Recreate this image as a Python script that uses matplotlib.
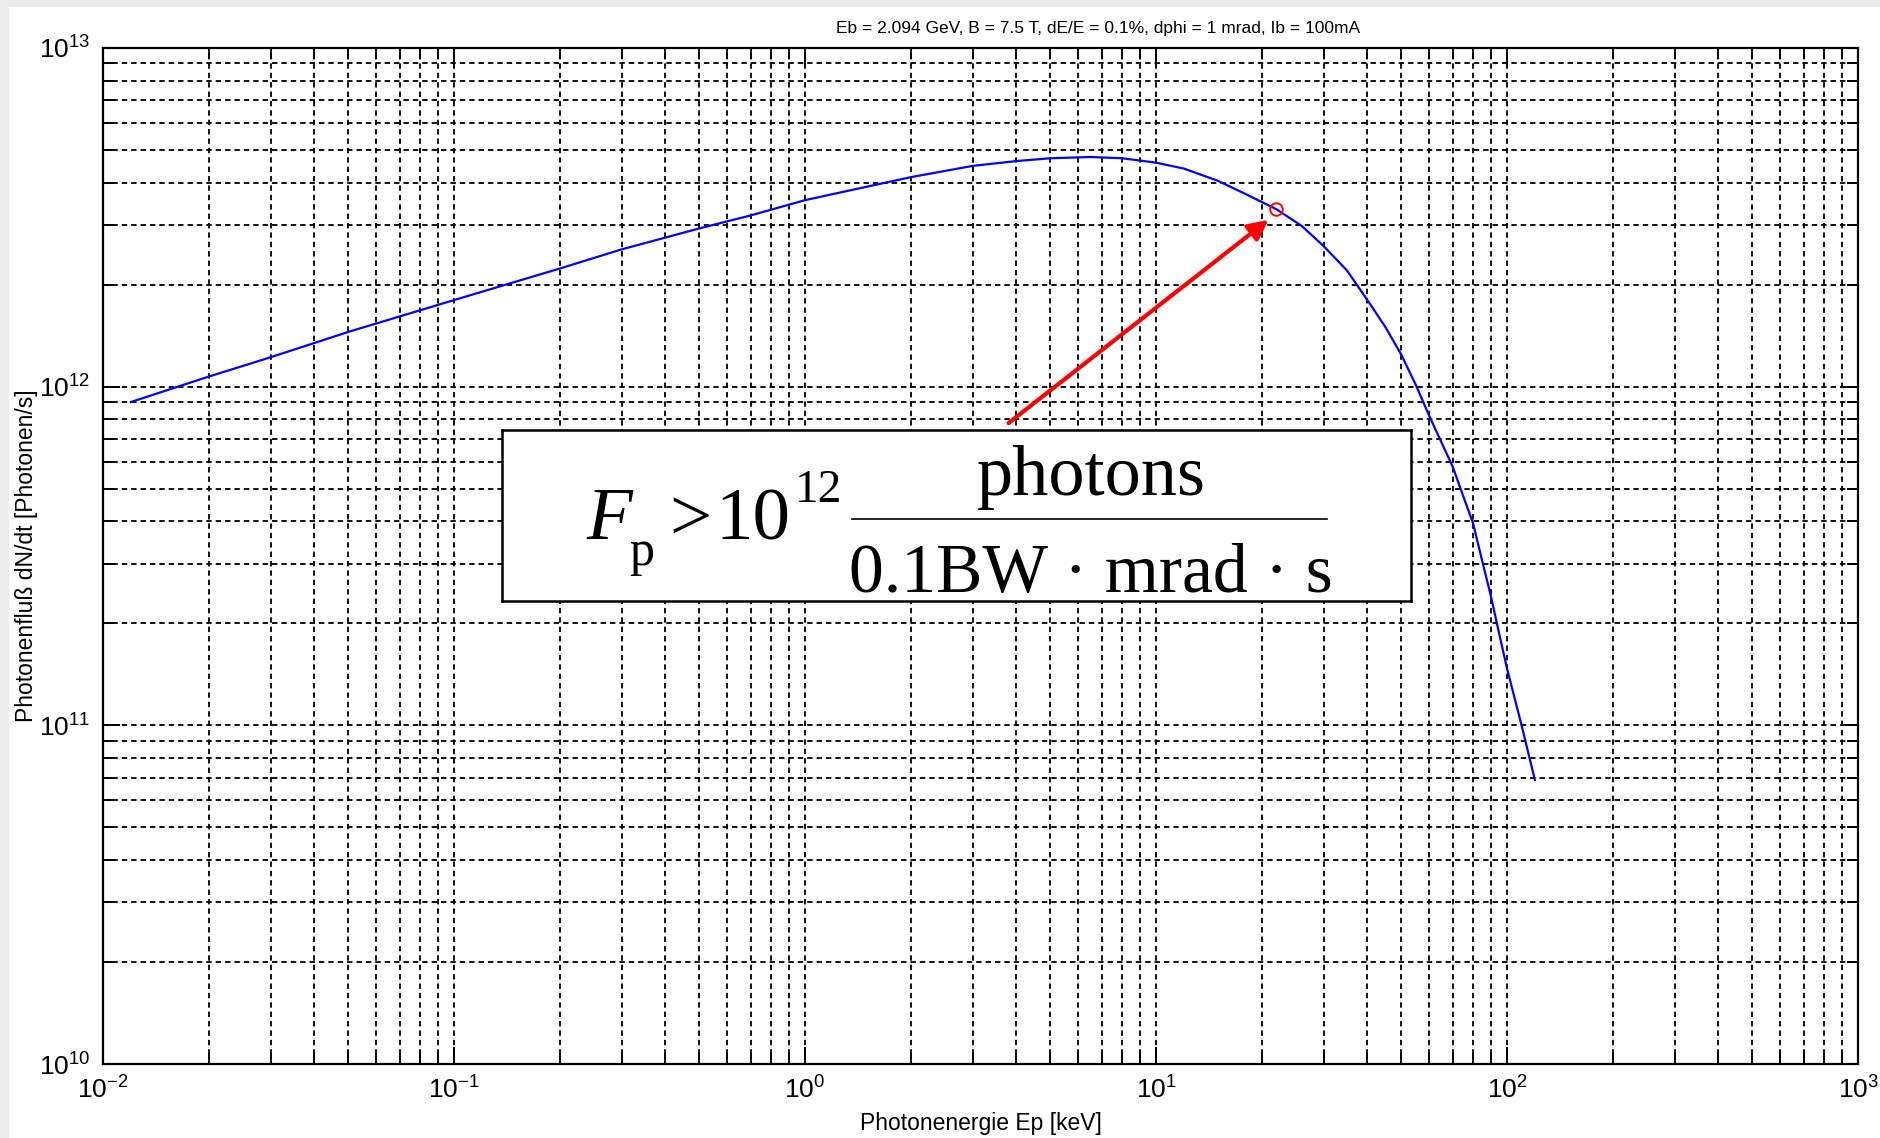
import math
import matplotlib
matplotlib.use('Agg')
import matplotlib.pyplot as plt
from matplotlib import font_manager
from matplotlib.patches import Rectangle
from matplotlib.ticker import LogLocator, FuncFormatter, NullFormatter

# photon energy [keV] and photon flux [photons/s]
energy = [0.012, 0.02, 0.03, 0.05, 0.1, 0.2, 0.3, 0.5, 0.7, 1, 1.5, 2, 3, 4,
          5, 6.5, 8, 10, 12, 15, 18, 22, 26, 30, 35, 40, 45, 50, 55, 60, 65,
          70, 75, 80, 85, 90, 95, 100, 110, 120]
flux = [9.0e11, 1.07e12, 1.22e12, 1.45e12, 1.8e12, 2.23e12, 2.54e12, 2.93e12,
        3.2e12, 3.55e12, 3.89e12, 4.15e12, 4.48e12, 4.63e12, 4.72e12,
        4.76e12, 4.72e12, 4.58e12, 4.4e12, 4.05e12, 3.7e12, 3.34e12,
        2.98e12, 2.6e12, 2.2e12, 1.8e12, 1.5e12, 1.24e12, 1.01e12, 8.2e11,
        6.85e11, 5.8e11, 4.75e11, 3.95e11, 3.05e11, 2.4e11, 1.86e11,
        1.47e11, 1.0e11, 6.9e10]

# critical energy marker and arrow start
crit_e, crit_f = 22.0, 3.34e12
arrow_from = (3.8, 7.8e11)

title = 'Eb = 2.094 GeV, B = 7.5 T, dE/E = 0.1%, dphi = 1 mrad, Ib = 100mA'
xlab = 'Photonenergie Ep [keV]'
ylab = 'Photonenfluß dN/dt [Photonen/s]'

#pick a narrow sans if there is one, matlab fonts look condensed
names = {f.name for f in font_manager.fontManager.ttflist}
narrow = 'Liberation Sans Narrow' if 'Liberation Sans Narrow' in names else 'Liberation Sans'
plt.rcParams['font.family'] = [narrow, 'DejaVu Sans']
plt.rcParams['mathtext.fontset'] = 'custom'
plt.rcParams['mathtext.rm'] = narrow
plt.rcParams['mathtext.it'] = narrow

fig = plt.figure(figsize=(18.81, 11.38), dpi=100)
ax = fig.add_axes([0.0548, 0.065, 0.933, 0.893])

#light grey border from screenshot
fig.patches.append(Rectangle((0, 0), 0.004, 1, transform=fig.transFigure,
                             color='#ececec', zorder=0))
fig.patches.append(Rectangle((0, 0.995), 1, 0.005, transform=fig.transFigure,
                             color='#ececec', zorder=0))

ax.plot(energy, flux, color='#0000ff', lw=1.6, zorder=3)
ax.plot([crit_e], [crit_f], 'o', mfc='none', mec='#ff0000', ms=9, mew=1.4, zorder=4)
ax.annotate('', xy=(crit_e * 0.95, crit_f * 0.93), xytext=arrow_from,
            arrowprops=dict(arrowstyle='-|>', color='#ff0000', lw=3,
                            mutation_scale=30, shrinkA=0, shrinkB=0), zorder=4)

ax.set_xscale('log')
ax.set_yscale('log')
ax.set_xlim(1e-2, 1e3)
ax.set_ylim(1e10, 1e13)

ax.xaxis.set_major_locator(LogLocator(base=10, numticks=10))
ax.yaxis.set_major_locator(LogLocator(base=10, numticks=10))
ax.xaxis.set_minor_locator(LogLocator(base=10, subs=range(2, 10), numticks=20))
ax.yaxis.set_minor_locator(LogLocator(base=10, subs=range(2, 10), numticks=20))
fmt = FuncFormatter(lambda v, p: r'$\mathregular{10^{%d}}$' % round(math.log10(v)))
ax.xaxis.set_major_formatter(fmt)
ax.yaxis.set_major_formatter(fmt)
ax.xaxis.set_minor_formatter(NullFormatter())
ax.yaxis.set_minor_formatter(NullFormatter())

ax.tick_params(which='both', direction='in', top=True, right=True, width=1.4,
               labelsize=19, colors='black')
ax.tick_params(which='major', length=12, pad=9)
ax.tick_params(which='minor', length=8)
ax.grid(True, which='both', color='black', linestyle=(0, (3, 2.2)), lw=1.3, zorder=1)
for s in ax.spines.values():
    s.set_linewidth(1.6)

#title sits right of centre in the original
ax.text(0.567, 1.012, title, transform=ax.transAxes, fontsize=12.5,
        ha='center', va='bottom')
ax.set_xlabel(xlab, fontsize=16.5, labelpad=6)
ax.set_ylabel(ylab, fontsize=16.5)
ax.yaxis.set_label_coords(-0.037, 0.5)

#formula box
bx = fig.add_axes([0.267, 0.472, 0.483, 0.150])
bx.set_xlim(0, 1)
bx.set_ylim(0, 1)
bx.set_xticks([])
bx.set_yticks([])
for s in bx.spines.values():
    s.set_linewidth(1.8)
serif = 'Liberation Serif'
bx.text(0.093, 0.36, 'F', fontsize=54, family=serif, style='italic', ha='left', va='baseline')
bx.text(0.140, 0.21, 'p', fontsize=36, family=serif, ha='left', va='baseline')
bx.text(0.184, 0.36, '>', fontsize=54, family=serif, ha='left', va='baseline')
bx.text(0.235, 0.36, '10', fontsize=54, family=serif, ha='left', va='baseline')
bx.text(0.322, 0.58, '12', fontsize=34, family=serif, ha='left', va='baseline')
bx.plot([0.385, 0.908], [0.48, 0.48], color='black', lw=1.2)
bx.text(0.648, 0.62, 'photons', fontsize=52, family=serif, ha='center', va='baseline')
bx.text(0.648, 0.05, '0.1BW \u00b7 mrad \u00b7 s', fontsize=50, family=serif,
        ha='center', va='baseline')

fig.savefig('out.png', dpi=100)
